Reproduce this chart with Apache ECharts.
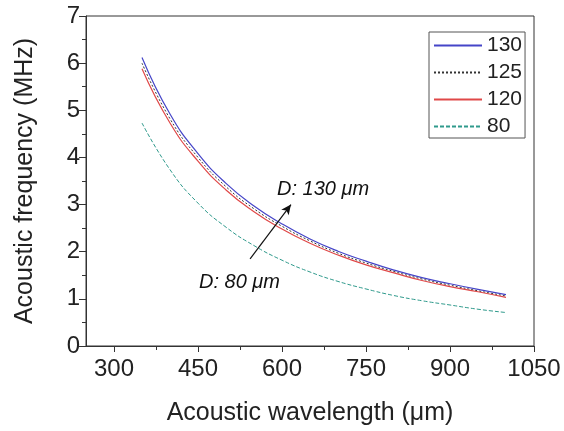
<!DOCTYPE html>
<html>
<head>
<meta charset="utf-8">
<script src="https://cdn.jsdelivr.net/npm/echarts@6/dist/echarts.min.js"></script>
<style>
html,body{margin:0;padding:0;background:#fff;}
#c{width:564px;height:431px;}
</style>
</head>
<body>
<div id="c"></div>
<script>
// Data
var wavelengths = [350, 400, 450, 500, 550, 600, 650, 700, 750, 800, 850, 900, 950, 1000];
var f130 = [6.12, 4.92, 4.08, 3.45, 2.97, 2.59, 2.27, 2.01, 1.80, 1.61, 1.45, 1.32, 1.20, 1.09];
var f125 = [6.00, 4.82, 4.00, 3.38, 2.91, 2.54, 2.23, 1.97, 1.76, 1.58, 1.42, 1.29, 1.17, 1.06];
var f120 = [5.88, 4.73, 3.92, 3.31, 2.85, 2.48, 2.18, 1.93, 1.72, 1.55, 1.39, 1.26, 1.15, 1.03];
var f80  = [4.73, 3.74, 3.03, 2.52, 2.13, 1.82, 1.57, 1.37, 1.21, 1.07, 0.96, 0.87, 0.78, 0.71];
var seriesNames = ['130', '125', '120', '80'];
var xMajorTicks = [300, 450, 600, 750, 900, 1050];
var xMinorTicks = [375, 525, 675, 825, 975];
var arrowFrom = [543, 1.85];
var arrowTo = [616, 3.0];

function pairs(ys) { return wavelengths.map(function (x, i) { return [x, ys[i]]; }); }

var FONT = '"Liberation Sans", Arial, Helvetica, sans-serif';
var chart = echarts.init(document.getElementById('c'), null, {renderer: 'canvas'});

var option = {
  animation: false,
  backgroundColor: '#fff',
  textStyle: {fontFamily: FONT},
  grid: {left: 86, right: 30, top: 16, bottom: 82, show: true, borderColor: '#333', borderWidth: 1, backgroundColor: 'transparent'},
  legend: {
    orient: 'vertical', left: 429, top: 32,
    padding: [3, 3, 1, 4], itemGap: 6, itemWidth: 48, itemHeight: 14,
    borderColor: '#555', borderWidth: 1, backgroundColor: '#fff',
    itemStyle: {opacity: 0},
    textStyle: {fontFamily: FONT, fontSize: 21, color: '#222', lineHeight: 21},
    data: seriesNames
  },
  xAxis: [{
    type: 'value', min: 250, max: 1050,
    name: 'Acoustic wavelength (μm)', nameLocation: 'middle', nameGap: 55,
    nameTextStyle: {fontFamily: FONT, fontSize: 25, color: '#222'},
    axisLine: {show: true, lineStyle: {color: '#333', width: 1}},
    axisTick: {show: true, inside: false, length: 6, customValues: xMajorTicks, lineStyle: {color: '#333'}},
    axisLabel: {show: true, customValues: xMajorTicks, fontFamily: FONT, fontSize: 24, color: '#222', margin: 11,
                formatter: function (v) { return String(v); }},
    splitLine: {show: false}
  }, {
    type: 'value', min: 250, max: 1050, position: 'bottom',
    axisLine: {show: false},
    axisTick: {show: true, inside: false, length: 4, customValues: xMinorTicks, lineStyle: {color: '#333'}},
    axisLabel: {show: false},
    splitLine: {show: false}
  }],
  yAxis: {
    type: 'value', min: 0, max: 7, interval: 1,
    name: 'Acoustic frequency (MHz)', nameLocation: 'middle', nameGap: 48,
    nameTextStyle: {fontFamily: FONT, fontSize: 25, color: '#222'},
    axisLine: {show: true, lineStyle: {color: '#333', width: 1}},
    axisTick: {show: true, inside: false, length: 7, lineStyle: {color: '#333'}},
    minorTick: {show: true, splitNumber: 2, length: 4, lineStyle: {color: '#333'}},
    axisLabel: {fontFamily: FONT, fontSize: 24, color: '#222', margin: 6},
    splitLine: {show: false}
  },
  series: [
    {name: '130', type: 'line', data: pairs(f130), smooth: true, symbol: 'none',
     lineStyle: {color: '#4545c8', width: 1.2}, itemStyle: {color: '#4545c8'}},
    {name: '125', type: 'line', data: pairs(f125), smooth: true, symbol: 'none',
     lineStyle: {color: '#333', width: 1, type: [2, 2]}, itemStyle: {color: '#333'}},
    {name: '120', type: 'line', data: pairs(f120), smooth: true, symbol: 'none',
     lineStyle: {color: '#e04848', width: 1.2}, itemStyle: {color: '#e04848'}},
    {name: '80', type: 'line', data: pairs(f80), smooth: true, symbol: 'none',
     lineStyle: {color: '#2f9a8c', width: 1, type: [4, 2]}, itemStyle: {color: '#2f9a8c'},
     markLine: {
       silent: true, symbol: ['none', 'arrow'], symbolSize: [7, 10],
       label: {show: false},
       lineStyle: {color: '#111', width: 1.2, type: 'solid'},
       data: [[{coord: arrowFrom}, {coord: arrowTo}]]
     }}
  ],
  graphic: [
    {type: 'text', left: 277, top: 179, style: {text: 'D: 130 μm', font: 'italic 20px ' + FONT, fill: '#111'}},
    {type: 'text', left: 199, top: 272, style: {text: 'D: 80 μm', font: 'italic 20px ' + FONT, fill: '#111'}}
  ]
};
chart.setOption(option);
</script>
</body>
</html>
